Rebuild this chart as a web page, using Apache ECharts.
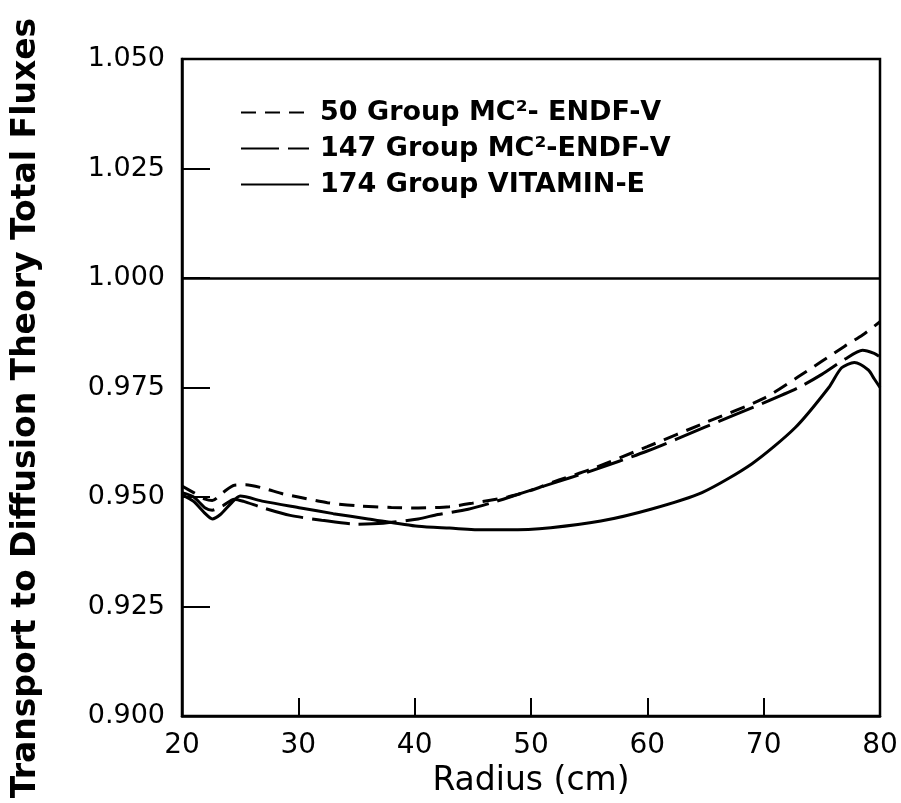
<!DOCTYPE html>
<html>
<head>
<meta charset="utf-8">
<script src="https://cdn.jsdelivr.net/npm/echarts@6/dist/echarts.min.js"></script>
<style>
html,body{margin:0;padding:0;background:#fff;}
#chart{width:901px;height:803px;}
</style>
</head>
<body>
<div id="chart"></div>
<script>
// ---- data ----
var seriesNames = ['50 Group MC²- ENDF-Ⅴ', '147 Group MC²-ENDF-Ⅴ', '174 Group VITAMIN-E'];

var radius50 = [20, 21, 22, 22.6, 23.5, 24.5, 25.5, 27, 28.7, 30, 32.5, 35, 38, 40.3, 43, 45, 48, 50, 52, 55, 60, 65, 70, 73, 75, 77, 78.5, 80];
var flux50   = [0.9525, 0.951, 0.9495, 0.9492, 0.951, 0.9527, 0.9528, 0.952, 0.9507, 0.950, 0.9487, 0.948, 0.9476, 0.9475, 0.9478, 0.9486, 0.950, 0.9515, 0.9535, 0.9562, 0.9615, 0.967, 0.9725, 0.9775, 0.981, 0.9845, 0.987, 0.990];

var radius147 = [20, 21, 22, 22.6, 23.5, 24.5, 25.3, 27, 29.3, 32, 35, 37.3, 40.3, 42, 44.6, 47, 49, 51.7, 55, 60, 65, 70, 73, 75, 77, 78.5, 79.5, 80];
var flux147   = [0.951, 0.950, 0.9475, 0.947, 0.948, 0.9495, 0.949, 0.9475, 0.9458, 0.9447, 0.9438, 0.944, 0.945, 0.946, 0.9472, 0.949, 0.9507, 0.953, 0.9558, 0.9605, 0.966, 0.9715, 0.975, 0.978, 0.9815, 0.9835, 0.9828, 0.982];

var radius174 = [20, 21, 22, 22.6, 23.3, 24.2, 25, 27, 30.2, 33, 36, 40.3, 43, 46, 48, 51.7, 56, 60.3, 64.7, 69, 72.7, 75.6, 76.7, 77.8, 79, 79.5, 80];
var flux174   = [0.9505, 0.949, 0.9462, 0.945, 0.946, 0.9485, 0.9502, 0.949, 0.9475, 0.9462, 0.945, 0.9433, 0.9429, 0.9425, 0.9425, 0.943, 0.9445, 0.9472, 0.951, 0.9576, 0.9658, 0.975, 0.9795, 0.9807, 0.979, 0.977, 0.975];

var referenceLevel = [1.000];
var xTicks = [20, 30, 40, 50, 60, 70, 80];
var yTicks = [0.900, 0.925, 0.950, 0.975, 1.000, 1.025, 1.050];
var xTitle = 'Radius (cm)';
var yTitle = 'Transport to Diffusion Theory Total Fluxes';

function pairs(xs, ys){ return xs.map(function(x,i){ return [x, ys[i]]; }); }

var FONT = 'DejaVu Sans';
var chart = echarts.init(document.getElementById('chart'), null, {renderer:'canvas'});

var option = {
  backgroundColor: '#fff',
  animation: false,
  grid: {left: 182, right: 21, top: 59, bottom: 87, show: true, borderColor: '#000', borderWidth: 2.5,
         backgroundColor: 'transparent', outerBoundsMode: 'none', containLabel: false},
  graphic: [{
    type: 'text', x: 26, y: 408, rotation: Math.PI / 2,
    style: {text: yTitle, fontFamily: FONT, fontSize: 33, fontWeight: 'bold', fill: '#000',
            textAlign: 'center', textVerticalAlign: 'middle'}
  }],
  legend: {
    data: seriesNames,
    orient: 'vertical',
    left: 235, top: 94,
    itemWidth: 68, itemHeight: 24, itemGap: 9,
    itemStyle: {opacity: 0},
    textStyle: {fontFamily: FONT, fontSize: 27, fontWeight: 'bold', color: '#000', padding: [0,0,0,6], lineHeight: 26},
    inactiveColor: '#000'
  },
  xAxis: {
    type: 'value', min: xTicks[0], max: xTicks[xTicks.length-1], interval: 10,
    name: xTitle, nameLocation: 'middle', nameGap: 45,
    nameTextStyle: {fontFamily: FONT, fontSize: 33, color: '#000'},
    axisLine: {show: true, lineStyle: {color: '#000', width: 2.5}},
    axisTick: {show: true, inside: true, length: 18, lineStyle: {color: '#000', width: 2}},
    axisLabel: {fontFamily: FONT, fontSize: 28, color: '#000', margin: 16},
    splitLine: {show: false}
  },
  yAxis: {
    type: 'value', min: yTicks[0], max: yTicks[yTicks.length-1], interval: 0.025,
    axisLine: {show: true, lineStyle: {color: '#000', width: 2.5}},
    axisTick: {show: true, inside: true, length: 28, lineStyle: {color: '#000', width: 2}},
    axisLabel: {fontFamily: FONT, fontSize: 27, color: '#000', margin: 17,
      formatter: function(v){ return v.toFixed(3); }},
    splitLine: {show: false}
  },
  series: [
    {
      name: seriesNames[0], type: 'line', data: pairs(radius50, flux50),
      showSymbol: false, symbol: 'none', smooth: 0.25,
      lineStyle: {color: '#000', width: 3, type: [15, 9]},
      itemStyle: {color: '#000'},
      markLine: {
        silent: true, symbol: 'none', label: {show: false},
        lineStyle: {color: '#000', width: 2.5, type: 'solid'},
        data: [{yAxis: referenceLevel[0]}]
      }
    },
    {
      name: seriesNames[1], type: 'line', data: pairs(radius147, flux147),
      showSymbol: false, symbol: 'none', smooth: 0.25,
      lineStyle: {color: '#000', width: 3, type: [38, 9]},
      itemStyle: {color: '#000'}
    },
    {
      name: seriesNames[2], type: 'line', data: pairs(radius174, flux174),
      showSymbol: false, symbol: 'none', smooth: 0.25,
      lineStyle: {color: '#000', width: 3, type: 'solid'},
      itemStyle: {color: '#000'}
    }
  ]
};
chart.setOption(option);
</script>
</body>
</html>
